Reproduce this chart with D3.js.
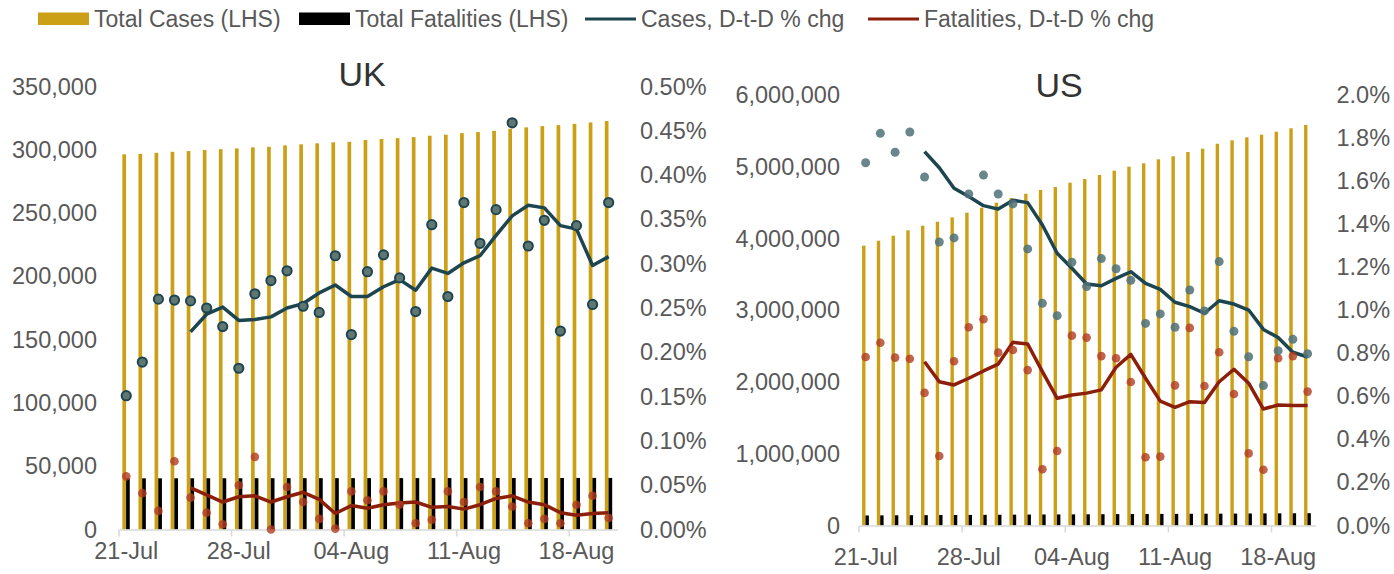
<!DOCTYPE html>
<html><head><meta charset="utf-8">
<script src="https://cdn.jsdelivr.net/npm/d3@7"></script>
<style>
body{margin:0;background:#fff;}
svg{display:block;font-family:"Liberation Sans",Arial,sans-serif;}
</style></head>
<body><svg id="c" width="1394" height="574"></svg>
<script>
const dates = ["21-Jul","22-Jul","23-Jul","24-Jul","25-Jul","26-Jul","27-Jul","28-Jul","29-Jul","30-Jul","31-Jul",
"01-Aug","02-Aug","03-Aug","04-Aug","05-Aug","06-Aug","07-Aug","08-Aug","09-Aug","10-Aug","11-Aug","12-Aug","13-Aug",
"14-Aug","15-Aug","16-Aug","17-Aug","18-Aug","19-Aug","20-Aug"];
const weekTicks = ["21-Jul","28-Jul","04-Aug","11-Aug","18-Aug"];

const ukCases = [296400,296800,297600,298400,299000,299800,300500,301100,301900,302400,303500,304300,305100,305900,306300,307700,308500,309200,310000,311100,311900,313200,314000,315000,316600,317700,318700,319500,320500,321600,322700];
const ukDeaths = [40400,40420,40430,40460,40470,40480,40480,40500,40530,40530,40550,40560,40560,40560,40580,40590,40600,40610,40610,40620,40640,40650,40670,40690,40700,40700,40710,40710,40720,40740,40750];
const ukCasesPct = [0.151,0.189,0.260,0.259,0.258,0.250,0.229,0.182,0.266,0.281,0.292,0.252,0.245,0.309,0.220,0.291,0.310,0.284,0.246,0.344,0.263,0.369,0.323,0.361,0.459,0.320,0.349,0.224,0.343,0.254,0.369];
const ukCasesAvg = [null,null,null,null,0.223,0.243,0.251,0.236,0.237,0.240,0.250,0.255,0.267,0.276,0.263,0.263,0.274,0.282,0.270,0.295,0.289,0.301,0.309,0.332,0.354,0.366,0.363,0.343,0.339,0.298,0.308];
const ukDeathsPct = [0.060,0.041,0.021,0.077,0.036,0.019,0.006,0.050,0.082,0.000,0.048,0.031,0.012,0.001,0.043,0.033,0.043,0.028,0.007,0.011,0.043,0.031,0.048,0.043,0.026,0.007,0.012,0.007,0.028,0.038,0.013];
const ukDeathsAvg = [null,null,null,null,0.047,0.039,0.031,0.037,0.038,0.031,0.037,0.042,0.034,0.018,0.027,0.024,0.028,0.030,0.031,0.025,0.026,0.023,0.028,0.035,0.038,0.031,0.028,0.019,0.016,0.018,0.019];

const usCases = [3900000,3969000,4039000,4114000,4178000,4234000,4295000,4360000,4429000,4499000,4564000,4624000,4676000,4718000,4778000,4829000,4885000,4945000,5001000,5048000,5104000,5146000,5206000,5252000,5321000,5369000,5410000,5447000,5488000,5536000,5582000];
const usDeaths = [140000,141100,142200,143300,144400,145600,146500,147600,148800,150000,151300,152500,153500,154300,155300,156400,157400,158500,159600,160600,161400,161900,162900,164000,165100,166300,167500,168500,169300,170400,171600];
const usCasesPct = [1.685,1.822,1.734,1.828,1.619,1.317,1.336,1.540,1.628,1.540,1.494,1.285,1.032,0.975,1.223,1.110,1.240,1.193,1.139,0.939,0.983,0.921,1.094,0.997,1.226,0.902,0.784,0.650,0.812,0.865,0.798];
const usCasesAvg = [null,null,null,null,1.737,1.662,1.567,1.528,1.486,1.470,1.511,1.500,1.396,1.265,1.195,1.122,1.114,1.148,1.179,1.125,1.097,1.037,1.017,0.986,1.044,1.029,1.001,0.911,0.873,0.805,0.783];
const usDeathsPct = [0.783,0.849,0.780,0.775,0.616,0.323,0.763,0.921,0.958,0.803,0.815,0.722,0.261,0.346,0.882,0.873,0.787,0.777,0.667,0.317,0.320,0.651,0.918,0.648,0.805,0.611,0.335,0.259,0.777,0.787,0.622];
const usDeathsAvg = [null,null,null,null,0.761,0.668,0.653,0.684,0.718,0.750,0.851,0.843,0.715,0.591,0.606,0.615,0.630,0.735,0.795,0.684,0.578,0.549,0.575,0.571,0.668,0.726,0.661,0.541,0.560,0.557,0.558];

const ukLeftTicks = [0,50000,100000,150000,200000,250000,300000,350000];
const ukRightTicks = [0,0.05,0.10,0.15,0.20,0.25,0.30,0.35,0.40,0.45,0.50];
const usLeftTicks = [0,1000000,2000000,3000000,4000000,5000000,6000000];
const usRightTicks = [0,0.2,0.4,0.6,0.8,1.0,1.2,1.4,1.6,1.8,2.0];

const legendItems = [
  {label:"Total Cases (LHS)", type:"rect", color:"#cca016"},
  {label:"Total Fatalities (LHS)", type:"rect", color:"#000000"},
  {label:"Cases, D-t-D % chg", type:"line", color:"#1d4550"},
  {label:"Fatalities, D-t-D % chg", type:"line", color:"#8c1f0c"}
];

const GOLD="#cca016", TEAL="#1d4550", RED="#8c1f0c", TXT="#595959", AX="#d9d9d9";
const svg = d3.select("#c");

function panel(o){
  const g = svg.append("g");
  const x = d3.scaleBand().domain(dates).range([o.x0,o.x1]).paddingInner(0).paddingOuter(0);
  const bw = x.bandwidth();
  const px = d => x(d) + bw*0.45;
  const yL = d3.scaleLinear().domain([0,o.leftMax]).range([o.yZero,o.yTop]);
  const yR = d3.scaleLinear().domain([0,o.rightMax]).range([o.yZero,o.yTop]);

  g.append("g").selectAll("rect").data(o.cases).join("rect")
    .attr("x",(d,i)=>x(dates[i])+bw*0.21).attr("width",bw*0.23)
    .attr("y",d=>yL(d)).attr("height",d=>yL(0)-yL(d)).attr("fill",GOLD);
  g.append("g").selectAll("rect").data(o.deaths).join("rect")
    .attr("x",(d,i)=>x(dates[i])+bw*0.44).attr("width",bw*0.23)
    .attr("y",d=>yL(d)).attr("height",d=>yL(0)-yL(d)).attr("fill","#000");

  const ax = g.append("g").attr("transform",`translate(0,${o.yZero})`)
    .call(d3.axisBottom(x).tickValues(weekTicks).tickSize(0).tickPadding(o.labPad));
  ax.select(".domain").attr("stroke",AX).attr("stroke-width",1.5);
  ax.selectAll(".tick text").attr("fill",TXT).style("font-size","23.5px")
    .attr("transform",`translate(${-bw*0.05},0)`);
  g.append("g").selectAll("line").data(weekTicks).join("line")
    .attr("x1",d=>x(d)).attr("x2",d=>x(d)).attr("y1",o.yZero).attr("y2",o.yZero+7)
    .attr("stroke",AX).attr("stroke-width",1.5);

  const al = g.append("g").attr("transform",`translate(${o.leftX},0)`)
    .call(d3.axisLeft(yL).tickValues(o.leftTicks).tickSize(0).tickPadding(0).tickFormat(d3.format(",")));
  al.select(".domain").remove();
  al.selectAll("text").attr("fill",TXT).style("font-size","23.5px");
  const ar = g.append("g").attr("transform",`translate(${o.rightX},0)`)
    .call(d3.axisRight(yR).tickValues(o.rightTicks).tickSize(0).tickPadding(0).tickFormat(d=>d.toFixed(o.dec)+"%"));
  ar.select(".domain").remove();
  ar.selectAll("text").attr("fill",TXT).style("font-size","23.5px");

  const line = d3.line().defined(d=>d!=null).x((d,i)=>px(dates[i])).y(d=>yR(d));
  g.append("path").datum(o.deathsAvg).attr("d",line).attr("fill","none").attr("stroke",RED).attr("stroke-width",3.5).attr("stroke-linejoin","round");
  g.append("path").datum(o.casesAvg).attr("d",line).attr("fill","none").attr("stroke",TEAL).attr("stroke-width",3.5).attr("stroke-linejoin","round");

  g.append("g").selectAll("circle").data(o.deathsPct).join("circle")
    .attr("cx",(d,i)=>px(dates[i])).attr("cy",d=>yR(d)).attr("r",4.3)
    .attr("fill","#b23c22").attr("fill-opacity",0.8);
  const cd = g.append("g").selectAll("circle").data(o.casesPct).join("circle")
    .attr("cx",(d,i)=>px(dates[i])).attr("cy",d=>yR(d));
  if(o.outlined){
    cd.attr("r",4.6).attr("fill","#5f7770").attr("stroke",TEAL).attr("stroke-width",2);
  } else {
    cd.attr("r",4.5).attr("fill","#4f7179").attr("fill-opacity",0.85);
  }

  g.append("text").attr("x",o.titleX).attr("y",o.titleY).attr("text-anchor","middle")
    .attr("dominant-baseline","central").attr("fill","#333").style("font-size","34px").text(o.title);
}

panel({title:"UK",titleX:362,titleY:74,x0:119,x1:617.5,yZero:529.5,yTop:86.5,
  leftMax:350000,rightMax:0.5,leftTicks:ukLeftTicks,rightTicks:ukRightTicks,dec:2,
  leftX:97,rightX:640,labPad:13,
  cases:ukCases,deaths:ukDeaths,casesPct:ukCasesPct,casesAvg:ukCasesAvg,deathsPct:ukDeathsPct,deathsAvg:ukDeathsAvg,outlined:true});
panel({title:"US",titleX:1059,titleY:85,x0:859,x1:1315.7,yZero:525.5,yTop:95,
  leftMax:6000000,rightMax:2.0,leftTicks:usLeftTicks,rightTicks:usRightTicks,dec:1,
  leftX:840,rightX:1336.5,labPad:23,
  cases:usCases,deaths:usDeaths,casesPct:usCasesPct,casesAvg:usCasesAvg,deathsPct:usDeathsPct,deathsAvg:usDeathsAvg,outlined:false});

// legend
const lg = svg.append("g");
const legX = [38,299,585,868];
legendItems.forEach((it,i)=>{
  const gx = legX[i];
  if(it.type==="rect"){
    lg.append("rect").attr("x",gx).attr("y",12.5).attr("width",51).attr("height",12.5).attr("fill",it.color);
  } else {
    lg.append("line").attr("x1",gx).attr("x2",gx+51).attr("y1",19).attr("y2",19).attr("stroke",it.color).attr("stroke-width",3);
  }
  lg.append("text").attr("x",gx+56).attr("y",19).attr("dominant-baseline","central")
    .attr("fill",TXT).style("font-size","23px").text(it.label);
});
</script></body></html>
